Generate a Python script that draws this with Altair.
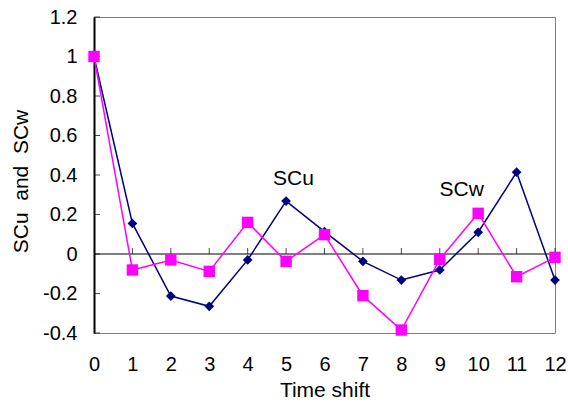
import altair as alt
import pandas as pd

shifts = list(range(13))
scu = [1.0, 0.155, -0.213, -0.265, -0.03, 0.268, 0.113, -0.037, -0.132, -0.081, 0.11, 0.414, -0.132]
scw = [1.0, -0.081, -0.03, -0.088, 0.16, -0.037, 0.098, -0.211, -0.385, -0.027, 0.206, -0.115, -0.017]

label_text = ["SCu", "SCw"]
label_x = [5.19, 9.57]
label_y = [0.382, 0.322]

y_ticks = [-0.4, -0.2, 0, 0.2, 0.4, 0.6, 0.8, 1.0, 1.2]
x_ticks = list(range(1, 13))

FONT = "Liberation Sans"
NB = "\u00a0"

df_u = pd.DataFrame({"t": shifts, "v": scu})
df_w = pd.DataFrame({"t": shifts, "v": scw})
df_lab = pd.DataFrame({"t": label_x, "v": label_y, "txt": label_text})
df_yt = pd.DataFrame({"v": y_ticks})
df_xt = pd.DataFrame({"t": x_ticks, "v": [0] * len(x_ticks)})

xs = alt.Scale(domain=[0, 12], nice=False, zero=False)
ys = alt.Scale(domain=[-0.4, 1.2], nice=False, zero=False)

x_axis = alt.Axis(values=list(range(13)), format="d", domain=False, ticks=False, grid=False,
                  labelFontSize=20, labelFont=FONT, labelColor="#000", labelPadding=21,
                  labelFlush=False,
                  title="Time shift", titleFont=FONT, titleFontSize=21, titleFontWeight="normal",
                  titleColor="#000", titlePadding=5)
y_axis = alt.Axis(values=y_ticks, domain=True, domainColor="#000", domainWidth=2, ticks=False,
                  grid=False, labelFontSize=20, labelFont=FONT, labelColor="#000", labelPadding=17,
                  labelFlush=False,
                  labelExpr="replace(format(datum.value, '.1~f'), '\u2212', '-')",
                  title="SCu" + NB + " and" + NB + " SCw", titleFont=FONT, titleFontSize=21,
                  titleFontWeight="normal", titleColor="#000", titlePadding=11, titleY=164)

base_x = alt.X("t:Q", scale=xs, axis=x_axis)
base_y = alt.Y("v:Q", scale=ys, axis=y_axis)

zero_rule = alt.Chart(pd.DataFrame({"v": [0]})).mark_rule(color="#000", strokeWidth=1).encode(
    y=alt.Y("v:Q", scale=ys, axis=y_axis))

xticks = alt.Chart(df_xt).mark_tick(orient="vertical", size=6, thickness=1, color="#000", yOffset=-3).encode(
    x=base_x, y=alt.Y("v:Q", scale=ys, axis=y_axis))

yticks = alt.Chart(df_yt).mark_tick(orient="horizontal", size=6, thickness=1, color="#000", xOffset=3).encode(
    x=alt.value(0), y=alt.Y("v:Q", scale=ys, axis=y_axis))

line_u = alt.Chart(df_u).mark_line(color="#000080", strokeWidth=1.5).encode(x=base_x, y=base_y)
pts_u = alt.Chart(df_u).mark_point(shape="diamond", filled=True, size=95, color="#000080", opacity=1).encode(x=base_x, y=base_y)
line_w = alt.Chart(df_w).mark_line(color="#FF00FF", strokeWidth=1.5).encode(x=base_x, y=base_y)
pts_w = alt.Chart(df_w).mark_point(shape="square", filled=True, size=130, color="#FF00FF", opacity=1).encode(x=base_x, y=base_y)

labels = alt.Chart(df_lab).mark_text(font=FONT, fontSize=21, color="#000").encode(
    x=base_x, y=base_y, text="txt:N")

chart = alt.layer(zero_rule, xticks, yticks, line_u, pts_u, line_w, pts_w, labels).properties(
    width=461, height=316,
    padding={"left": 94, "top": 17, "right": 13, "bottom": 75},
    autosize=alt.AutoSizeParams(type="none"),
    background="white",
).configure_view(stroke="#808080", strokeWidth=1)

chart.save("out.html", embed_options={"renderer": "svg", "actions": False})
